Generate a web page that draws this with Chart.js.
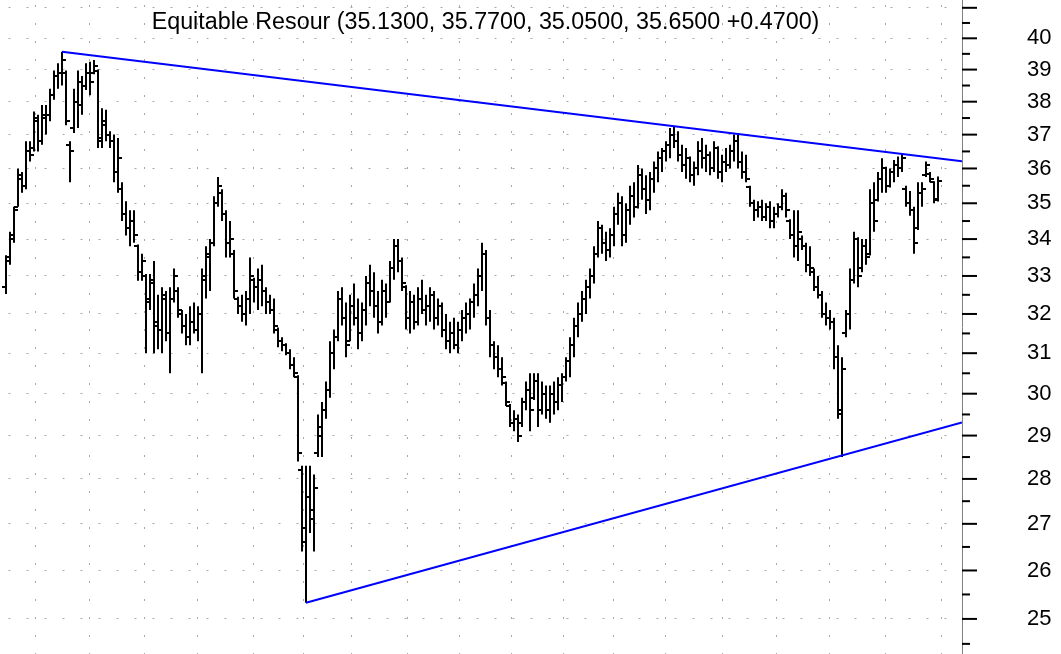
<!DOCTYPE html>
<html>
<head>
<meta charset="utf-8">
<title>Equitable Resour</title>
<script src="https://cdn.jsdelivr.net/npm/chart.js@4.4.1/dist/chart.umd.min.js"></script>
<style>
  html, body { margin: 0; padding: 0; background: #fff; }
  #wrap { position: relative; width: 1061px; height: 654px; }
</style>
</head>
<body>
<div id="wrap"><canvas id="myChart"></canvas></div>
<script>
const chartTitle = "Equitable Resour (35.1300, 35.7700, 35.0500, 35.6500 +0.4700)";

// daily bars, oldest first
const opens = [
  32.7,33.5,34.1,34.9,35.7,35.5,36.5,36.6,37.4,36.8,
  37.5,37.6,38.2,38.8,38.9,38.9,36.7,37.2,38.0,37.9,
  38.5,38.9,38.9,38.95,36.8,37.3,37.0,36.8,35.9,35.4,
  34.7,34.3,34.5,33.8,33.1,33.0,32.4,32.8,31.7,31.6,
  32.4,31.5,32.4,32.6,32.0,31.7,31.4,31.8,31.6,32.0,
  32.9,33.5,33.9,35.0,35.3,34.7,33.9,33.6,32.4,32.2,
  32.0,32.4,32.9,32.7,32.9,32.6,32.3,32.1,31.6,31.3,
  31.2,31.0,30.7,30.4,28.2,26.6,27.6,27.1,28.6,29.0,
  29.6,30.1,31.0,31.4,32.4,31.9,31.3,32.2,31.9,31.5,
  32.1,32.8,32.6,32.2,31.8,32.6,32.3,33.2,33.8,33.4,
  32.7,31.9,32.3,31.8,32.4,32.1,32.2,32.5,31.9,32.2,
  31.6,31.3,31.5,31.2,31.6,31.9,32.0,32.3,32.5,33.0,
  33.6,31.9,31.2,30.9,30.6,30.25,29.7,29.3,29.4,29.3,
  29.8,30.1,29.9,30.3,29.6,30.0,29.6,30.0,29.8,30.2,
  30.4,30.8,31.2,31.7,32.0,32.4,32.7,33.0,33.6,34.3,
  33.9,33.7,34.1,34.7,35.0,34.1,34.8,35.2,34.9,35.8,
  35.4,35.1,35.7,36.0,36.3,36.5,36.7,37.0,36.8,36.4,
  36.1,36.3,35.8,36.0,36.5,36.3,36.4,36.0,36.6,35.9,
  36.2,36.1,36.5,36.8,36.2,35.9,35.45,35.0,34.8,34.9,
  34.6,34.9,34.5,34.7,34.9,35.2,34.5,34.1,33.8,34.0,
  33.8,33.3,33.1,32.7,32.5,32.0,31.9,31.8,30.9,29.5,
  31.5,32.0,32.9,34.0,33.2,33.8,33.6,35.0,35.1,35.7,
  36.0,35.5,35.9,36.1,36.0,35.4,35.0,34.8,34.3,35.3,
  35.8,35.85,35.6,35.13
];
const highs = [
  33.56,34.2,34.9,36.0,35.9,36.8,36.8,37.7,37.6,37.9,
  37.9,38.4,38.97,39.2,39.57,38.97,36.8,38.4,38.97,38.8,
  39.2,39.25,39.3,39.0,37.8,37.75,37.1,37.0,36.9,35.6,
  35.06,34.8,34.8,33.85,33.6,33.05,33.05,33.4,32.5,32.7,
  32.6,32.7,33.2,32.7,32.1,32.0,32.2,32.3,32.2,33.2,
  33.8,34.0,35.2,35.75,35.4,34.8,34.5,33.7,32.45,32.5,
  32.6,33.5,32.95,33.2,33.3,32.7,32.5,32.4,31.65,31.4,
  31.25,31.1,30.9,30.45,28.3,28.3,28.3,28.1,29.5,29.8,
  30.3,31.3,31.6,32.6,32.7,32.3,32.5,32.8,32.4,32.3,
  33.0,33.3,33.1,32.6,32.9,32.8,33.4,34.0,34.0,33.5,
  32.75,32.6,32.5,32.7,32.9,32.5,32.7,32.6,32.4,32.3,
  32.0,31.8,31.9,31.8,32.1,32.3,32.4,32.8,33.2,33.9,
  33.7,32.1,31.3,31.2,30.9,30.3,29.75,29.6,29.5,29.9,
  30.3,30.5,30.5,30.5,30.3,30.2,30.2,30.3,30.4,30.5,
  30.9,31.4,31.9,32.3,32.6,32.9,33.2,33.8,34.5,34.4,
  34.2,34.3,34.9,35.3,35.2,35.0,35.5,35.6,36.1,36.0,
  35.8,35.9,36.2,36.5,36.6,36.8,37.2,37.25,37.1,36.7,
  36.6,36.35,36.2,36.8,36.9,36.7,36.5,36.8,36.65,36.4,
  36.6,36.7,37.0,37.05,36.5,36.4,35.5,35.1,35.06,35.1,
  35.0,35.06,34.9,35.0,35.4,35.3,34.55,34.8,34.8,34.1,
  33.9,33.8,33.2,33.0,32.6,32.3,32.1,31.9,31.2,30.9,
  32.1,33.2,34.2,34.05,34.0,34.0,35.4,35.6,35.9,36.3,
  36.05,36.0,36.25,36.35,36.45,35.5,35.35,34.9,35.6,35.6,
  36.2,35.9,35.63,35.77
];
const lows = [
  32.52,33.3,33.9,34.9,35.3,35.4,36.2,36.5,36.5,36.7,
  37.0,37.4,38.06,38.4,38.5,37.28,35.6,37.05,37.2,37.6,
  38.36,38.2,38.85,36.6,36.6,36.8,36.6,35.6,35.3,34.5,
  34.1,33.8,33.9,32.87,32.87,31.0,32.1,31.0,31.1,31.0,
  31.3,30.5,32.3,31.9,31.5,31.2,31.2,31.5,31.3,30.5,
  32.4,32.6,33.8,34.9,34.5,33.5,33.5,32.4,32.0,31.8,
  31.7,32.0,32.3,32.1,32.2,32.0,32.0,31.5,31.15,31.05,
  30.95,30.6,30.4,28.4,26.4,25.33,26.8,26.4,28.5,28.5,
  29.4,29.9,30.6,31.3,31.7,30.9,31.3,31.7,31.1,31.3,
  31.7,32.2,31.9,31.5,31.7,31.9,32.3,32.9,33.1,32.6,
  31.6,31.5,31.6,31.7,32.0,31.7,31.8,31.6,31.7,31.4,
  31.1,31.0,31.1,31.0,31.3,31.5,31.6,31.9,32.2,32.6,
  31.7,30.9,30.6,30.4,30.2,29.7,29.2,29.1,28.85,29.2,
  29.6,29.1,29.85,29.2,29.5,29.4,29.3,29.5,29.6,29.8,
  30.3,30.4,30.9,31.4,31.8,32.0,32.4,32.8,33.5,33.6,
  33.4,33.5,33.8,34.4,33.8,33.9,34.4,34.6,34.85,35.1,
  34.7,34.8,35.3,35.6,35.9,36.2,36.3,36.6,36.2,35.9,
  35.7,35.6,35.5,35.8,36.0,35.9,35.8,35.9,35.7,35.6,
  35.9,36.0,36.2,36.0,35.7,35.6,34.9,34.5,34.6,34.5,
  34.5,34.3,34.3,34.6,34.8,34.6,34.0,33.5,33.4,33.7,
  33.1,33.0,32.6,32.4,31.9,31.7,31.6,30.6,29.4,28.5,
  31.4,31.6,32.8,32.7,33.1,33.3,33.55,34.2,35.05,35.3,
  35.3,35.45,35.6,35.75,35.9,34.9,34.65,33.6,34.25,34.9,
  35.75,35.6,35.0,35.05
];
const closes = [
  33.4,34.0,34.8,35.8,35.5,36.5,36.4,37.5,36.8,37.6,
  37.6,38.2,38.8,38.9,39.3,37.4,36.5,38.0,38.6,38.5,
  38.9,38.6,39.1,36.9,37.4,37.0,36.8,35.9,36.3,34.7,
  34.3,34.5,34.1,33.1,33.4,32.3,32.9,31.8,31.6,32.5,
  31.5,32.4,33.0,32.1,31.7,31.4,31.8,31.6,32.0,33.0,
  33.6,33.9,35.0,35.5,34.7,33.9,34.0,32.6,32.2,32.0,
  32.4,33.0,32.7,32.9,32.6,32.3,32.1,31.7,31.3,31.2,
  31.0,30.7,30.5,28.6,26.9,27.6,27.3,27.8,29.2,29.6,
  30.1,31.0,31.4,32.4,31.9,31.2,32.2,31.9,31.5,32.1,
  32.8,32.6,32.2,31.8,32.6,32.3,33.2,33.8,33.4,32.8,
  31.9,32.3,31.8,32.4,32.1,32.2,32.5,31.9,32.2,31.6,
  31.3,31.5,31.2,31.6,31.9,32.0,32.3,32.5,33.0,33.6,
  31.9,31.2,30.9,30.6,30.4,29.8,29.3,29.4,29.0,29.8,
  30.1,29.6,30.3,29.6,30.0,29.6,30.0,29.8,30.2,30.4,
  30.8,31.2,31.7,32.0,32.4,32.7,33.0,33.6,34.3,33.9,
  33.7,34.1,34.7,35.0,34.1,34.8,35.2,34.9,35.8,35.4,
  35.1,35.7,36.0,36.3,36.5,36.7,37.0,36.8,36.4,36.1,
  36.3,35.8,36.0,36.5,36.3,36.4,36.0,36.6,35.9,36.2,
  36.1,36.5,36.8,36.2,35.9,35.7,35.0,34.8,34.9,34.6,
  34.9,34.5,34.7,34.9,35.2,34.8,34.1,33.8,34.2,33.8,
  33.3,33.2,32.7,32.5,32.0,31.9,31.8,30.9,29.6,30.6,
  32.0,32.9,34.0,33.0,33.8,33.5,35.0,34.5,35.7,36.0,
  35.5,35.9,36.1,36.0,36.3,35.0,34.8,33.9,35.3,35.4,
  36.1,35.7,35.1,35.65
];

// trend lines: [start, end] as {bar index, price}
const upperTrend = [{ x: 14, y: 39.57 }, { x: 239, y: 36.21 }];
const lowerTrend = [{ x: 75, y: 25.33 }, { x: 239, y: 29.31 }];

// price axis
const priceTicks = [25,26,27,28,29,30,31,32,33,34,35,36,37,38,39,40,41];
const halfTicks = [24.5,25.5,26.5,27.5,28.5,29.5,30.5,31.5,32.5,33.5,34.5,35.5,36.5,37.5,38.5,39.5,40.5];
// month separators (bar index)
const monthLines = [0.83,13.9,27.8,41.4,54.3,69.3,79.2,93.5,107.1,119.75,133.1,145.75,157.8,171.8,186.25,198.75,212.75,226.75];

const FONT = "'Liberation Sans', Arial, sans-serif";

function tickMark(side) {
  const c = document.createElement("canvas");
  c.width = 8;
  c.height = 2;
  const g = c.getContext("2d");
  g.fillStyle = "#000";
  g.fillRect(side === "left" ? 0 : 4, 0, 4, 2);
  return c;
}

const axisTicks = {
  id: "axisTicks",
  afterDraw(chart) {
    const ys = chart.scales.y;
    const ctx = chart.ctx;
    ctx.save();
    ctx.strokeStyle = "#000";
    ctx.lineWidth = 2;
    const draw = (v, len) => {
      const py = ys.getPixelForValue(v);
      ctx.beginPath();
      ctx.moveTo(ys.left, py);
      ctx.lineTo(ys.left + len, py);
      ctx.stroke();
    };
    priceTicks.forEach(v => draw(v, 15));
    halfTicks.forEach(v => draw(v, 8));
    ctx.restore();
  }
};

const titleText = {
  id: "titleText",
  afterDraw(chart) {
    const ctx = chart.ctx;
    ctx.save();
    ctx.font = "23.3px " + FONT;
    ctx.fillStyle = "#000";
    ctx.textAlign = "center";
    ctx.textBaseline = "alphabetic";
    ctx.fillText(chartTitle, 485.5, 28.5);
    ctx.restore();
  }
};

new Chart(document.getElementById("myChart"), {
  type: "bar",
  data: {
    datasets: [
      {
        type: "line",
        data: upperTrend,
        borderColor: "#0000ff",
        borderWidth: 2,
        pointRadius: 0,
        order: 0
      },
      {
        type: "line",
        data: lowerTrend,
        borderColor: "#0000ff",
        borderWidth: 2,
        pointRadius: 0,
        order: 0
      },
      {
        type: "line",
        data: opens.map((v, i) => ({ x: i, y: v })),
        showLine: false,
        pointStyle: tickMark("left"),
        pointRadius: 3,
        order: 1
      },
      {
        type: "line",
        data: closes.map((v, i) => ({ x: i, y: v })),
        showLine: false,
        pointStyle: tickMark("right"),
        pointRadius: 3,
        order: 1
      },
      {
        type: "bar",
        data: highs.map((h, i) => ({ x: i, y: [lows[i], h] })),
        backgroundColor: "#000",
        borderWidth: 0,
        barThickness: 2,
        inflateAmount: 0,
        grouped: false,
        order: 2
      }
    ]
  },
  options: {
    animation: false,
    responsive: true,
    maintainAspectRatio: false,
    events: [],
    layout: { padding: 0, autoPadding: false },
    plugins: {
      legend: { display: false },
      tooltip: { enabled: false }
    },
    scales: {
      x: {
        type: "linear",
        min: -1.5,
        max: 239,
        offset: false,
        ticks: { display: false },
        grid: { color: "#a8a8a8", lineWidth: 1, drawTicks: false },
        border: { display: false, dash: [2, 16], dashOffset: 13 },
        afterBuildTicks: s => { s.ticks = monthLines.map(v => ({ value: v })); },
        afterFit: s => {
          s.height = 0;
          s.paddingLeft = 0; s.paddingRight = 0;
          s.paddingTop = 0; s.paddingBottom = 0;
        }
      },
      y: {
        type: "logarithmic",
        position: "right",
        min: 24.30,
        max: 41.26,
        ticks: {
          callback: v => (v <= 40 ? String(v) : ""),
          font: { family: FONT, size: 22 },
          color: "#000",
          padding: 65,
          crossAlign: "near",
          autoSkip: false
        },
        grid: { color: "#a8a8a8", lineWidth: 1, drawTicks: false },
        border: { display: true, color: "#808080", width: 1, dash: [2, 16], dashOffset: 9.5 },
        afterBuildTicks: s => { s.ticks = priceTicks.map(v => ({ value: v })); },
        afterFit: s => { s.width = 99; s.paddingTop = 0; s.paddingBottom = 0; }
      }
    }
  },
  plugins: [axisTicks, titleText]
});
</script>
</body>
</html>
